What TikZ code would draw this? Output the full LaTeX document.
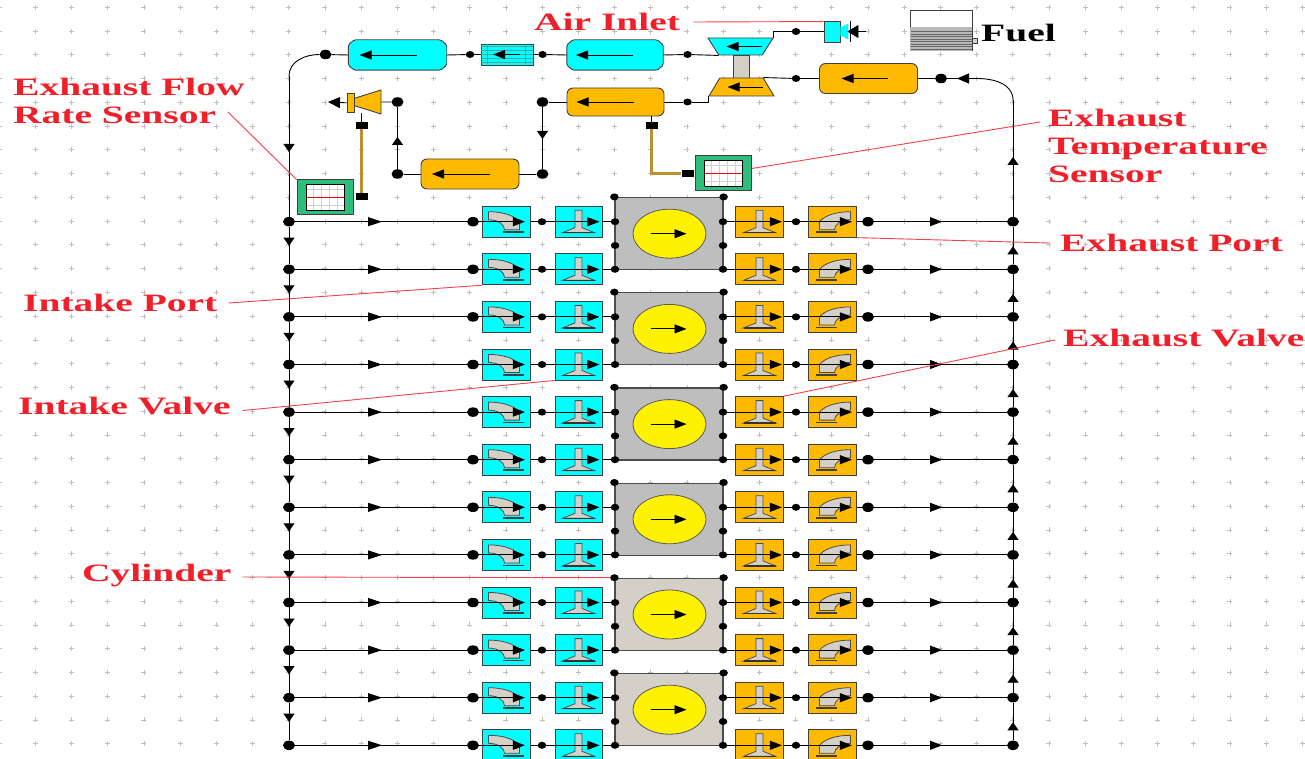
\documentclass[tikz,border=0pt]{standalone}
\usepackage{fontspec}
\usepackage{tikz}
\usetikzlibrary{shapes.geometric, arrows.meta, positioning, calc}

\newfontfamily\labelfont[FakeStretch=1.58]{Liberation Serif}
\newcommand{\nogap}{\phantom{\rule{2pt}{2pt}}}
\newcommand{\chamferbox}[1]{%
    \draw[draw=black!75, line width=0.9pt, fill=runcyan, rounded corners=1.5pt]
        ($(#1.north west)+(6,0)$) -- ($(#1.north east)+(-6,0)$) -- ($(#1.north east)+(0,5)$)
        -- ($(#1.south east)+(0,-5)$) -- ($(#1.south east)+(-6,0)$) -- ($(#1.south west)+(6,0)$)
        -- ($(#1.south west)+(0,-5)$) -- ($(#1.north west)+(0,5)$) -- cycle;%
}
\definecolor{runcyan}{HTML}{00FFFF}
\definecolor{runorange}{HTML}{FFBA00}
\definecolor{labelred}{HTML}{F0202A}
\definecolor{partgray}{HTML}{D4D0C8}
\definecolor{cylgray}{HTML}{BEBEBE}
\definecolor{sensorgreen}{HTML}{2DBE7C}
\definecolor{pipebrass}{HTML}{BC8F30}

\tikzset{
    pics/portshape/.style={code={
        \draw[draw=black!70, fill=partgray, line width=0.8pt] (-18,-10) .. controls (-5,-10) and (7,-7) .. (13,0) -- (13,8) -- (-2,8) .. controls (-2,3) and (-8,-2) .. (-18,-2) -- cycle;
        \draw[black!75, line width=1.6pt] (-4,10.5) -- (17,10.5);
    }},
    pics/valveshape/.style={code={
        \draw[draw=black!70, fill=partgray, line width=0.8pt] (-3.5,-11.5) -- (3.5,-11.5) -- (3.5,6) -- (16,11) -- (-16,11) -- (-3.5,6) -- cycle;
        \draw[black!80, line width=1.4pt] (-16,11) -- (16,11);
    }},
    pics/scopeshape/.style={code={
        \fill[white] (-19,-13) rectangle (19,13);
        \foreach \g in {-12,-4,4,12} {\draw[partgray, line width=1pt] (\g,-13) -- (\g,13);}
        \foreach \g in {-8,0,8} {\draw[partgray, line width=0.7pt] (-19,\g) -- (19,\g);}
        \draw[red, line width=0.6pt] (-19,0) -- (19,0);
        \draw[black, line width=0.9pt] (-19,13) -- (-19,-13) -- (19,-13);
        \draw[black, line width=0.9pt] (-19,13) -- (19,13) -- (19,-13);
    }}
}

\begin{document}
\begin{tikzpicture}[
        x=1pt, y=-1pt,
        % Estilos das pecas
        portbox/.style={rectangle, draw=black!75, line width=0.9pt, minimum width=48pt, minimum height=31pt, inner sep=0pt},
        valvebox/.style={portbox, minimum width=47pt},
        cylbox/.style={rectangle, draw=black!70, line width=1.2pt, fill=cylgray, minimum width=108pt, minimum height=72pt, inner sep=0pt},
        piston/.style={ellipse, draw=black!65, line width=0.8pt, fill=yellow, minimum width=73pt, minimum height=49pt, inner sep=0pt},
        receiver/.style={rectangle, minimum width=98pt, minimum height=30pt, inner sep=0pt},
        exhreceiver/.style={rectangle, rounded corners=6pt, draw=black!75, line width=0.9pt, fill=runorange, minimum width=98pt, minimum height=30pt, inner sep=0pt},
        turbo/.style={trapezium, trapezium stretches=true, draw=black!75, line width=0.9pt, inner sep=0pt, minimum width=65pt, minimum height=17pt, trapezium left angle=76, trapezium right angle=76},
        sensor/.style={rectangle, draw=black!75, line width=1pt, fill=sensorgreen, minimum width=56pt, minimum height=35pt, inner sep=0pt},
        tinybox/.style={rectangle, fill=black, minimum width=12pt, minimum height=7pt, inner sep=0pt},
        bigdot/.style={ellipse, fill=black, minimum width=12pt, minimum height=9.5pt, inner sep=0pt},
        smalldot/.style={ellipse, fill=black, minimum width=8.5pt, minimum height=7pt, inner sep=0pt},
        line/.style={draw=black, line width=0.9pt},
        brassline/.style={draw=pipebrass, line width=2.4pt},
        flow/.style={line, -{Triangle[length=14pt, width=9pt]}},
        busflow/.style={line, -{Triangle[length=8pt, width=11pt]}},
        inner/.style={line, -{Triangle[length=12pt, width=9pt]}},
        leader/.style={draw=labelred!85, line width=0.9pt},
        redlabel/.style={text=labelred, font=\labelfont\bfseries\fontsize{25}{28}\selectfont, inner sep=0pt, anchor=west, align=left},
        blacklabel/.style={text=black, font=\labelfont\bfseries\fontsize{25}{28}\selectfont, inner sep=0pt, anchor=west}
    ]

    \clip (0,0) rectangle (1305,759);
    \fill[white] (0,0) rectangle (1305,759);

    % Grade de fundo
    \foreach \gx in {0,...,36} {
        \foreach \gy in {0,...,31} {
            \draw[black!25, line width=0.6pt] ({-1+36.2*\gx-2.5},{7.3+23.75*\gy}) -- ++(5,0) ({-1+36.2*\gx},{7.3+23.75*\gy-2.5}) -- ++(0,5);
        }
    }

    % Cilindros
    \foreach \c in {0,...,5} {
        \pgfmathsetmacro\cy{221.7+95.2*\c}
        \ifnum\c<4
            \node (cyl\c) [cylbox] at (669,\cy+11.8) {};
        \else
            \node (cyl\c) [cylbox, fill=partgray] at (669,\cy+11.8) {};
        \fi
        \node (piston\c) [piston] at (669.5,\cy+12) {};
        \draw [inner] ($(piston\c.center)+(-19,0)$) -- ($(piston\c.center)+(17,0)$);
        \node (ctl\c) [smalldot] at (cyl\c.north west) {};
        \node (ctr\c) [smalldot] at (cyl\c.north east) {};
        \node (cml\c) [smalldot] at (615,\cy+23.8) {};
        \node (cmr\c) [smalldot] at (723,\cy+23.8) {};
    }

    % Linhas dos cilindros
    \foreach \i in {0,...,11} {
        \pgfmathsetmacro\ry{221.7+47.6*\i}
        \node (jl\i) [bigdot] at (289,\ry) {};
        \node (jm\i) [bigdot, right=184pt of jl\i.center, anchor=center] {};
        \node (ip\i) [portbox, fill=runcyan] at (506.5,\ry) {};
        \node (ja\i) [smalldot] at (542,\ry) {};
        \node (iv\i) [valvebox, fill=runcyan] at (578.5,\ry) {};
        \node (cl\i) [smalldot] at (615,\ry) {};
        \node (cr\i) [smalldot] at (723,\ry) {};
        \node (ev\i) [portbox, fill=runorange] at (759.5,\ry) {};
        \node (jb\i) [smalldot] at (796,\ry) {};
        \node (ep\i) [portbox, fill=runorange] at (832.5,\ry) {};
        \node (jq\i) [bigdot] at (868,\ry) {};
        \node (jr\i) [bigdot] at (1013,\ry) {};

        \pic at (ip\i) {portshape};
        \pic at (iv\i) {valveshape};
        \pic at (ev\i) {valveshape};
        \pic [xscale=-1] at (ep\i) {portshape};

        \draw [line] (jl\i) -- (jm\i);
        \draw [flow] (jl\i) -- ++(93,0);
        \draw [line] (jm\i) -- (ip\i);
        \draw [inner] (jm\i) -- ($(ip\i.east)+(-6,0)$);
        \draw [line] (ip\i) -- (ja\i);
        \draw [inner] (ja\i) -- ($(iv\i.east)+(-3,0)$);
        \draw [line] (iv\i) -- (cl\i);
        \draw [inner] (cr\i) -- ($(ev\i.east)+(-2,0)$);
        \draw [line] (ev\i) -- (jb\i);
        \draw [inner] (jb\i) -- ($(ep\i.east)+(-5,0)$);
        \draw [line] (ep\i) -- (jq\i);
        \draw [line] (jq\i) -- (jr\i);
        \draw [flow, -{Triangle[length=12pt, width=9pt]}] (jq\i) -- ++(74,0);
    }

    % Coletores laterais
    \coordinate (busleft) at (289,76);
    \coordinate (busright) at (1013,100);
    \draw [line] (busleft) -- (jl0);
    \draw [busflow] (busleft) -- (289,152);
    \draw [line] (jr0) -- (busright);
    \draw [busflow] (jr0) -- (1013,157);
    \foreach \i [count=\j from 1] in {0,...,10} {
        \draw [line] (jl\i) -- (jl\j);
        \draw [busflow] (jl\i) -- ++(0,24);
        \draw [line] (jr\j) -- (jr\i);
        \draw [busflow] (jr\j) -- ++(0,-23);
    }

    % Admissao
    \node (intopdot) [bigdot] at (325.5,54.5) {};
    \node (cooler) [receiver] at (397.5,55) {};
    \chamferbox{cooler}
    \node (cooldot) [smalldot] at (470,54.5) {};
    \node (intercooler) [rectangle, draw=black!75, line width=0.9pt, fill=runcyan, minimum width=52pt, minimum height=21pt, inner sep=0pt] at (507,54.5) {};
    \foreach \l in {-8,-4,...,8} {
        \draw[teal!70, line width=0.7pt] ($(intercooler.center)+(-26,\l)$) -- ($(intercooler.center)+(26,\l)$);
    }
    \foreach \l in {-20,18} {
        \draw[black!50, line width=0.9pt] ($(intercooler.center)+(\l,-10)$) -- ($(intercooler.center)+(\l,10)$);
    }
    \node (intrec) [receiver, minimum width=96pt] at (615,55) {};
    \chamferbox{intrec}
    \node (intdot) [smalldot] at (542.5,54.5) {};
    \node (compdot) [smalldot] at (687.5,54.5) {};
    \node (shaft) [rectangle, draw=black!75, line width=0.9pt, fill=partgray, minimum width=16pt, minimum height=23pt, inner sep=0pt] at (741,66.5) {};
    \node (comp) [turbo, fill=runcyan, shape border rotate=180] at (740.5,46.5) {\nogap};
    \node (turb) [turbo, fill=runorange, minimum height=18pt] at (741.5,87) {\nogap};
    \draw [inner] ($(comp.center)+(21,0)$) -- ($(comp.center)+(-14,0)$);
    \draw [inner] ($(turb.center)+(21,0)$) -- ($(turb.center)+(-14,0)$);
    \draw [inner] ($(cooler.center)+(19,0)$) -- ($(cooler.center)+(-38,0)$);
    \draw [inner] ($(intrec.center)+(18,0)$) -- ($(intrec.center)+(-39,0)$);
    \draw [inner] ($(intercooler.center)+(13,0)$) -- ($(intercooler.center)+(-14,0)$);
    \draw [line] (busleft) to[out=90, in=180] (intopdot);
    \draw [line] (intopdot) -- (cooler.west);
    \draw [line] (cooler.east) -- (cooldot);
    \draw [line] (cooldot) -- (intercooler);
    \draw [line] (intercooler) -- (intdot);
    \draw [line] (intdot) -- (intrec.west);
    \draw [line] (intrec.east) -- (compdot);
    \draw [line] (compdot) -- (comp.top right corner);

    % Entrada de ar
    \node (airdot) [smalldot] at (796,31.5) {};
    \node (airbox) [rectangle, draw=black!75, line width=0.9pt, fill=runcyan, minimum width=16pt, minimum height=21pt, inner sep=0pt] at (832,31.5) {};
    \coordinate (airend) at (866,31.5);
    \fill[runcyan] (airbox.east) ++(0,-4) -- ++(8,-4) -- ++(0,16) -- ++(-8,-4) -- cycle;
    \draw[black, line width=0.9pt] ($(airbox.east)+(10,-10.5)$) -- ($(airbox.east)+(10,10.5)$);
    \draw [line, -{Triangle[length=11pt, width=13pt]}] (airend) -- ($(airbox.east)+(7,0)$);
    \draw [line] (comp.bottom left corner) |- (airdot);
    \draw [line] (airdot) -- (airbox);

    % Escape
    \node (exhdot) [smalldot] at (796,78.5) {};
    \node (exhrec) [exhreceiver] at (868.5,78.5) {};
    \node (exhrdot) [bigdot] at (941,78.5) {};
    \coordinate (exhcurve) at (977,78.5);
    \draw [inner] ($(exhrec.center)+(19,0)$) -- ($(exhrec.center)+(-27,0)$);
    \draw [line] (turb.top right corner) -- (exhdot);
    \draw [line] (exhdot) -- (exhrec);
    \draw [line] (exhrec) -- (exhrdot);
    \draw [line] (exhrdot) -- (exhcurve);
    \draw [busflow, -{Triangle[length=12pt, width=10pt]}] (exhcurve) -- (957,78.5);
    \draw [line] (busright) to[out=90, in=0] (exhcurve);

    % Turbina e catalisador
    \node (turbdot) [smalldot] at (687.5,102) {};
    \node (exhup) [exhreceiver, minimum width=97pt, minimum height=28pt] at (615.5,102) {};
    \node (catr) [bigdot] at (542.5,102) {};
    \node (catb) [bigdot] at (542.5,174) {};
    \node (cat) [exhreceiver] at (470,174) {};
    \node (catl) [bigdot] at (397.5,174) {};
    \node (catt) [bigdot] at (397.5,102) {};
    \node (tailcone) [trapezium, trapezium stretches=true, draw=black!75, line width=0.9pt, fill=runorange, shape border rotate=90, inner sep=0pt, minimum width=24pt, minimum height=27pt, trapezium left angle=40, trapezium right angle=40] at (367.5,102) {\nogap};
    \node (tailbox) [rectangle, draw=black!75, line width=0.9pt, fill=runorange, minimum width=7pt, minimum height=19pt, inner sep=0pt] at (350.5,103) {};
    \coordinate (tailend) at (328,102);
    \draw [inner] ($(exhup.center)+(18,0)$) -- ($(exhup.center)+(-39,0)$);
    \draw [inner] ($(cat.center)+(20,0)$) -- ($(cat.center)+(-38,0)$);
    \draw [line] (turb.bottom left corner) |- (turbdot);
    \draw [line] (turbdot) -- (exhup);
    \draw [line] (exhup) -- (catr);
    \draw [line] (catr) -- (catb);
    \draw [busflow] (catr) -- ++(0,37);
    \draw [line] (catb) -- (cat);
    \draw [line] (cat) -- (catl);
    \draw [line] (catl) -- (catt);
    \draw [busflow] (catl) -- ++(0,-37);
    \draw [line] (catt) -- (tailcone);
    \draw [line, -{Triangle[length=12pt, width=11pt]}] (tailbox) -- (tailend);

    % Sensores
    \node (flowsensor) [sensor] at (325,197.5) {};
    \pic at (flowsensor) {scopeshape};
    \node (flowport) [tinybox] at (361.5,197) {};
    \node (flowtop) [tinybox] at (361.5,125.5) {};
    \draw [brassline] (flowport) -- (flowtop);
    \draw [line] (flowtop) -- (flowtop |- tailbox.south);

    \node (tempsensor) [sensor] at (723.5,173.5) {};
    \pic at (tempsensor) {scopeshape};
    \node (tempport) [tinybox] at (687.5,173.5) {};
    \node (temptop) [tinybox] at (651.5,125.5) {};
    \draw [brassline] (tempport) -| (temptop);
    \draw [line] (temptop) -- (temptop |- exhup.south);

    % Tanque de combustivel
    \node (tank) [rectangle, draw=black!75, line width=1pt, fill=white, minimum width=62pt, minimum height=40pt, inner sep=0pt] at (941,31) {};
    \fill[black!28] ($(tank.south west)+(0.5,-0.5)$) rectangle ($(tank.east)+(-0.5,-4)$);
    \foreach \l in {-2.5,-5,...,-22} {
        \draw[black!60, line width=0.6pt] ($(tank.south west)+(1,\l)$) -- ($(tank.south east)+(-1,\l)$);
    }
    \node (tankcap) [rectangle, draw=black!75, line width=0.8pt, fill=partgray, minimum width=5pt, minimum height=5pt, inner sep=0pt] at (974.5,40.5) {};
    \node (fuel) [blacklabel] at (981,33) {Fuel};

    % Rotulos
    \node (airlabel) [redlabel] at (534,22) {Air Inlet};
    \node (flowlabel) [redlabel] at (13,100.5) {Exhaust Flow \\ Rate Sensor};
    \node (templabel) [redlabel] at (1048,146) {Exhaust \\ Temperature \\ Sensor};
    \node (eportlabel) [redlabel] at (1060,243) {Exhaust Port};
    \node (iportlabel) [redlabel] at (23,303) {Intake Port};
    \node (evalvelabel) [redlabel] at (1063,338) {Exhaust Valve};
    \node (ivalvelabel) [redlabel] at (18,406.5) {Intake Valve};
    \node (cyllabel) [redlabel] at (82,576) {Cylinder};

    % Linhas de chamada
    \draw [leader] ($(airlabel.east)+(13,0)$) -- ($(airbox.north west)+(0,1)$);
    \draw [leader] ($(flowlabel.east)+(-17,11.5)$) -- (flowsensor.north west);
    \draw [leader] ($(templabel.west)+(-8,-24)$) -- (tempsensor.10);
    \draw [leader] ($(eportlabel.west)+(-11,0)$) -- (ep0.south east);
    \draw [leader] ($(iportlabel.east)+(11,0)$) -- (ip1.south west);
    \draw [leader] ($(evalvelabel.west)+(-8,2)$) -- (ev4.north east);
    \draw [leader] ($(ivalvelabel.east)+(12,4)$) -- (iv3.south west);
    \draw [leader] ($(cyllabel.east)+(11,1)$) -- (ctl4);

\end{tikzpicture}
\end{document}
